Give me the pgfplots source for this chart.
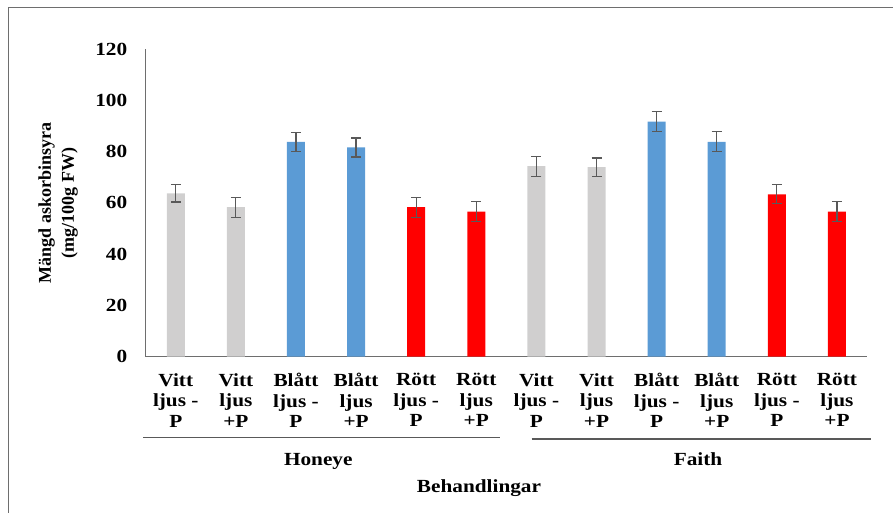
\documentclass[border=0pt]{standalone}
\usepackage{pgfplots}
\pgfplotsset{compat=1.18}
\usepackage{fontspec}
\setmainfont{Liberation Serif}[FakeStretch=1.15]
\newfontfamily\ylabfont{Liberation Serif}
\definecolor{cgray}{HTML}{D0CFCF}
\definecolor{cblue}{HTML}{5B9BD5}
\definecolor{cred}{HTML}{FF0000}
\definecolor{cerr}{HTML}{595959}
\definecolor{caxis}{HTML}{6E6E6E}
\begin{document}
\begin{tikzpicture}[x=1pt,y=1pt]
\path[use as bounding box] (0,0) rectangle (893,513);
\draw[caxis, line width=1.5pt] (8.5,0) -- (8.5,505.5) -- (893,505.5);
\begin{axis}[
  at={(145.7pt,156.3pt)}, anchor=south west,
  scale only axis, width=721.3pt, height=307.7pt,
  xmin=-0.5, xmax=11.5, ymin=0, ymax=120,
  axis x line*=bottom, axis y line*=left,
  axis line style={-, caxis, line width=1.3pt},
  ytick={0,20,...,120}, major tick length=0pt,
  xtick={0,...,11},
  xticklabels={{Vitt\\ljus -\\P},{Vitt\\ljus\\+P},{Blått\\ljus -\\P},{Blått\\ljus\\+P},{Rött\\ljus -\\P},{Rött\\ljus\\+P},
               {Vitt\\ljus -\\P},{Vitt\\ljus\\+P},{Blått\\ljus -\\P},{Blått\\ljus\\+P},{Rött\\ljus -\\P},{Rött\\ljus\\+P}},
  xticklabel style={align=center, font=\bfseries\fontsize{18.5}{20.5}\selectfont, yshift=-13pt},
  yticklabel style={font=\bfseries\fontsize{18.5}{20}\selectfont, xshift=-15pt},
  /pgf/number format/assume math mode=true,
  ybar, bar width=18pt,
  error bars/y dir=both, error bars/y explicit,
  error bars/error bar style={cerr, line width=1.2pt},
  error bars/error mark options={cerr, line width=1.2pt, rotate=90, mark size=5pt},
]
\addplot[fill=cgray, draw=none, bar shift=0pt] coordinates {
  (0,63.7) +- (0,3.4)
  (1,58.3) +- (0,3.9)
  (6,74.3) +- (0,3.9)
  (7,73.9) +- (0,3.6)
};
\addplot[fill=cblue, draw=none, bar shift=0pt] coordinates {
  (2,83.8) +- (0,3.7)
  (3,81.6) +- (0,3.7)
  (8,91.7) +- (0,3.9)
  (9,83.8) +- (0,3.9)
};
\addplot[fill=cred, draw=none, bar shift=0pt] coordinates {
  (4,58.3) +- (0,3.9)
  (5,56.6) +- (0,3.9)
  (10,63.3) +- (0,3.7)
  (11,56.6) +- (0,3.9)
};
\end{axis}
\draw[cerr, line width=1.3pt] (143,75.3) -- (500,75.3);
\draw[cerr, line width=1.3pt] (531.7,74) -- (870.7,74);
\node[font=\bfseries\fontsize{18.5}{20}\selectfont, anchor=base] at (318.3,47) {Honeye};
\node[font=\bfseries\fontsize{18.5}{20}\selectfont, anchor=base] at (698,47) {Faith};
\node[font=\bfseries\fontsize{18.5}{20}\selectfont, anchor=base] at (479,20) {Behandlingar};
\node[rotate=90, align=center, font=\ylabfont\bfseries\fontsize{18}{23}\selectfont] at (58,310) {Mängd askorbinsyra\\(mg/100g FW)};
\end{tikzpicture}
\end{document}
